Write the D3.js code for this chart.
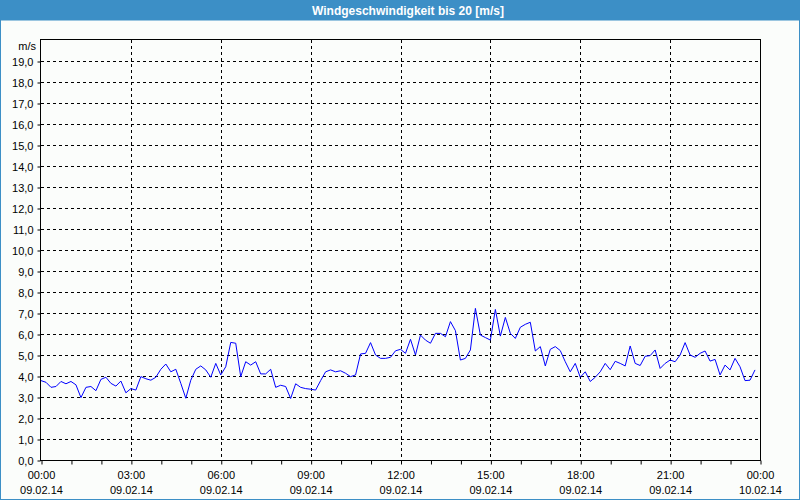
<!DOCTYPE html>
<html><head><meta charset="utf-8">
<script src="https://cdn.jsdelivr.net/npm/d3@7/dist/d3.min.js"></script>
<style>
html,body{margin:0;padding:0;background:#fbfdfb;}
svg{display:block;}
text{font-family:"Liberation Sans",Arial,sans-serif;}
</style></head><body>
<svg id="c" width="800" height="500"></svg>
<script>
const title = "Windgeschwindigkeit bis 20 [m/s]";
const unitLabel = "m/s";
const startTime = new Date(2014, 1, 9, 0, 0);
const endTime = new Date(2014, 1, 10, 0, 0);
const stepMinutes = 10;
const windSpeed = [
3.78,3.7,3.46,3.5,3.74,3.63,3.74,3.58,2.97,3.46,3.5,3.3,3.84,3.94,3.65,3.52,3.76,3.2,3.4,3.33,
3.97,3.87,3.8,3.94,4.32,4.57,4.2,4.32,3.65,2.94,3.8,4.32,4.48,4.29,3.94,4.6,4.05,4.44,5.6,5.56,
3.97,4.68,4.52,4.68,4.1,4.1,4.32,3.46,3.56,3.5,2.93,3.63,3.46,3.4,3.37,3.33,3.78,4.2,4.29,4.2,
4.25,4.13,3.97,4.05,5.05,5.08,5.59,5.0,4.84,4.84,4.89,5.2,5.27,5.08,5.75,5.0,5.95,5.71,5.56,6.03,
6.03,5.87,6.59,6.16,4.76,4.84,5.24,7.22,5.95,5.83,5.71,7.17,5.9,6.79,6.03,5.79,6.32,6.46,6.56,5.19,
5.4,4.48,5.27,5.4,5.21,4.68,4.2,4.6,3.94,4.2,3.74,3.94,4.2,4.6,4.3,4.7,4.6,4.48,5.43,4.6,
4.5,4.94,4.97,5.24,4.36,4.6,4.76,4.68,5.0,5.59,5.0,4.89,5.08,5.19,4.71,4.79,4.05,4.52,4.29,4.84,
4.44,3.78,3.8,4.29
];
const yTicks = d3.range(0, 20, 1);
const xMajorHours = [0,3,6,9,12,15,18,21,24];

const svg = d3.select("#c");
const W = 800, H = 500;
const L = 41, T = 40, R = 761, B = 460;

// title bar and frame
svg.append("rect").attr("x",0).attr("y",0).attr("width",W).attr("height",20).attr("fill","#3c8fc6");
svg.append("text").attr("x",408).attr("y",14.5).attr("text-anchor","middle")
  .attr("fill","#ffffff").attr("font-size","12px").attr("font-weight","bold").text(title);
svg.append("rect").attr("x",0.5).attr("y",20).attr("width",W-1).attr("height",H-20.5)
  .attr("fill","none").attr("stroke","#3c8fc6").attr("stroke-width",1);

const x = d3.scaleTime().domain([startTime, endTime]).range([L, R-1]);
const y = d3.scaleLinear().domain([0, 20]).range([B, T]);

const data = windSpeed.map((v,i)=>({t:new Date(startTime.getTime()+i*stepMinutes*60000), v}));

const g = svg.append("g");
// horizontal grid
g.selectAll("line.hg").data(yTicks.filter(d=>d>0)).enter().append("line")
  .attr("x1",L).attr("x2",R-1).attr("y1",d=>Math.round(y(d))+0.5).attr("y2",d=>Math.round(y(d))+0.5)
  .attr("stroke","#000").attr("stroke-dasharray","3,3").attr("shape-rendering","crispEdges");
// vertical grid
const majorTimes = xMajorHours.map(h=>new Date(startTime.getTime()+h*3600000));
g.selectAll("line.vg").data(majorTimes.slice(1,-1)).enter().append("line")
  .attr("x1",d=>Math.round(x(d))+0.5).attr("x2",d=>Math.round(x(d))+0.5).attr("y1",T).attr("y2",B)
  .attr("stroke","#000").attr("stroke-dasharray","3,3").attr("shape-rendering","crispEdges");

// plot frame
svg.append("rect").attr("x",L-0.5).attr("y",T-0.5).attr("width",R-L).attr("height",B-T+1)
  .attr("fill","none").attr("stroke","#000").attr("shape-rendering","crispEdges");

// line
const line = d3.line().x(d=>x(d.t)).y(d=>y(d.v));
svg.append("path").datum(data).attr("d",line).attr("fill","none").attr("stroke","#0000ff")
  .attr("stroke-width",1);

// y axis
const yAxis = d3.axisLeft(y).tickValues(yTicks).tickSize(3).tickFormat(d=>d3.format(".1f")(d).replace(".",","));
const ya = svg.append("g").attr("transform",`translate(${L-0.5},0.5)`).call(yAxis);
ya.select(".domain").remove();
ya.selectAll("text").attr("font-size","11px").attr("fill","#000").attr("dx","-1px")
  .style("font-family","'Liberation Sans',Arial,sans-serif");
svg.append("text").attr("x",36).attr("y",50).attr("text-anchor","end").attr("font-size","11px").text(unitLabel);

// x axis
const hourTicks = d3.range(0,25).map(h=>new Date(startTime.getTime()+h*3600000));
const xAxis = d3.axisBottom(x).tickValues(hourTicks).tickSize(4).tickFormat("");
const xa = svg.append("g").attr("transform",`translate(0.5,${B+0.5})`).call(xAxis);
xa.select(".domain").remove();
const fmtT = d3.timeFormat("%H:%M"), fmtD = d3.timeFormat("%d.%m.%y");
const lbl = svg.append("g");
lbl.selectAll("text.t").data(majorTimes).enter().append("text")
  .attr("x",d=>x(d)+0.5).attr("y",479).attr("text-anchor","middle").attr("font-size","11px")
  .text(d=> d.getTime()===endTime.getTime() ? "00:00" : fmtT(d));
lbl.selectAll("text.d").data(majorTimes).enter().append("text")
  .attr("x",d=>x(d)+0.5).attr("y",494).attr("text-anchor","middle").attr("font-size","11px")
  .text(d=>fmtD(d));
</script></body></html>
